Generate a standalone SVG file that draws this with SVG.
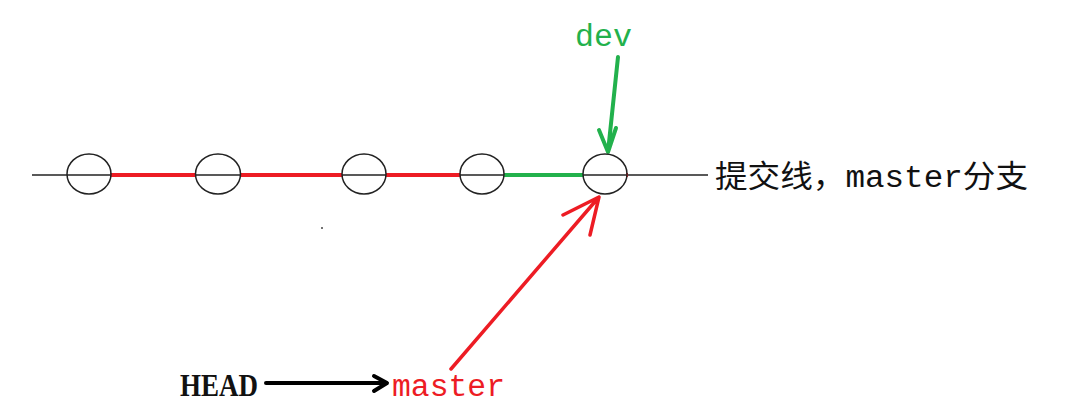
<svg xmlns="http://www.w3.org/2000/svg" width="1070" height="420" viewBox="0 0 1070 420">
<style>
.base{stroke:#222;stroke-width:1.5;fill:none}
.seg-red{stroke:#ed1c24;stroke-width:4;fill:none}
.seg-green{stroke:#22b14c;stroke-width:4;fill:none}
.commit{fill:none;stroke:#222;stroke-width:1.5}
.lbl{font-family:"Liberation Mono","Noto Sans CJK SC",monospace;font-size:31px}
.arr-red{stroke:#ed1c24;stroke-width:3.5;fill:none;stroke-linecap:round;stroke-linejoin:round}
.arr-green{stroke:#22b14c;stroke-width:4;fill:none;stroke-linecap:round;stroke-linejoin:round}
.arr-black{stroke:#000;stroke-width:4;fill:none;stroke-linecap:round;stroke-linejoin:round}
</style>
<rect width="1070" height="420" fill="#fff"/>
<g id="connectors">
  <line class="base" x1="32" y1="175" x2="708" y2="175"/>
  <line class="seg-red" x1="110" y1="175" x2="196" y2="175"/>
  <line class="seg-red" x1="241" y1="175" x2="342" y2="175"/>
  <line class="seg-red" x1="386" y1="175" x2="460" y2="175"/>
  <line class="seg-green" x1="504" y1="175" x2="583" y2="175"/>
  <line x1="626" y1="175" x2="628" y2="175" stroke="#ed1c24" stroke-width="4"/>
  <path class="arr-green" d="M618,57 L608,152 M599,130 L608,152 L616,128"/>
  <path class="arr-red" d="M451,369 L599,197 M563,215 L599,197 L590,235"/>
  <path class="arr-black" d="M266,383 L386,383 M374,376 L387,383 L374,391"/>
</g>
<g id="commit1"><ellipse class="commit" cx="89" cy="174" rx="22" ry="20"/></g>
<g id="commit2"><ellipse class="commit" cx="218" cy="174" rx="22.5" ry="20"/></g>
<g id="commit3"><ellipse class="commit" cx="364" cy="174" rx="22" ry="20"/></g>
<g id="commit4"><ellipse class="commit" cx="482" cy="174" rx="22" ry="20"/></g>
<g id="commit5"><ellipse class="commit" cx="605" cy="174" rx="22" ry="20"/></g>
<g id="label-line"><text class="lbl" x="715" y="187" font-size="32" fill="#111" textLength="313" lengthAdjust="spacingAndGlyphs">提交线，master分支</text></g>
<g id="dev"><text class="lbl" x="575" y="46" fill="#22b14c" textLength="57" lengthAdjust="spacingAndGlyphs">dev</text></g>
<g id="master"><text class="lbl" x="392" y="396" fill="#ed1c24" textLength="113" lengthAdjust="spacingAndGlyphs">master</text></g>
<g id="head"><text x="180" y="396" font-family="Liberation Serif, serif" font-weight="bold" font-size="31" fill="#111" textLength="78" lengthAdjust="spacingAndGlyphs">HEAD</text></g>
<circle cx="322" cy="228" r="1" fill="#444"/>
</svg>
